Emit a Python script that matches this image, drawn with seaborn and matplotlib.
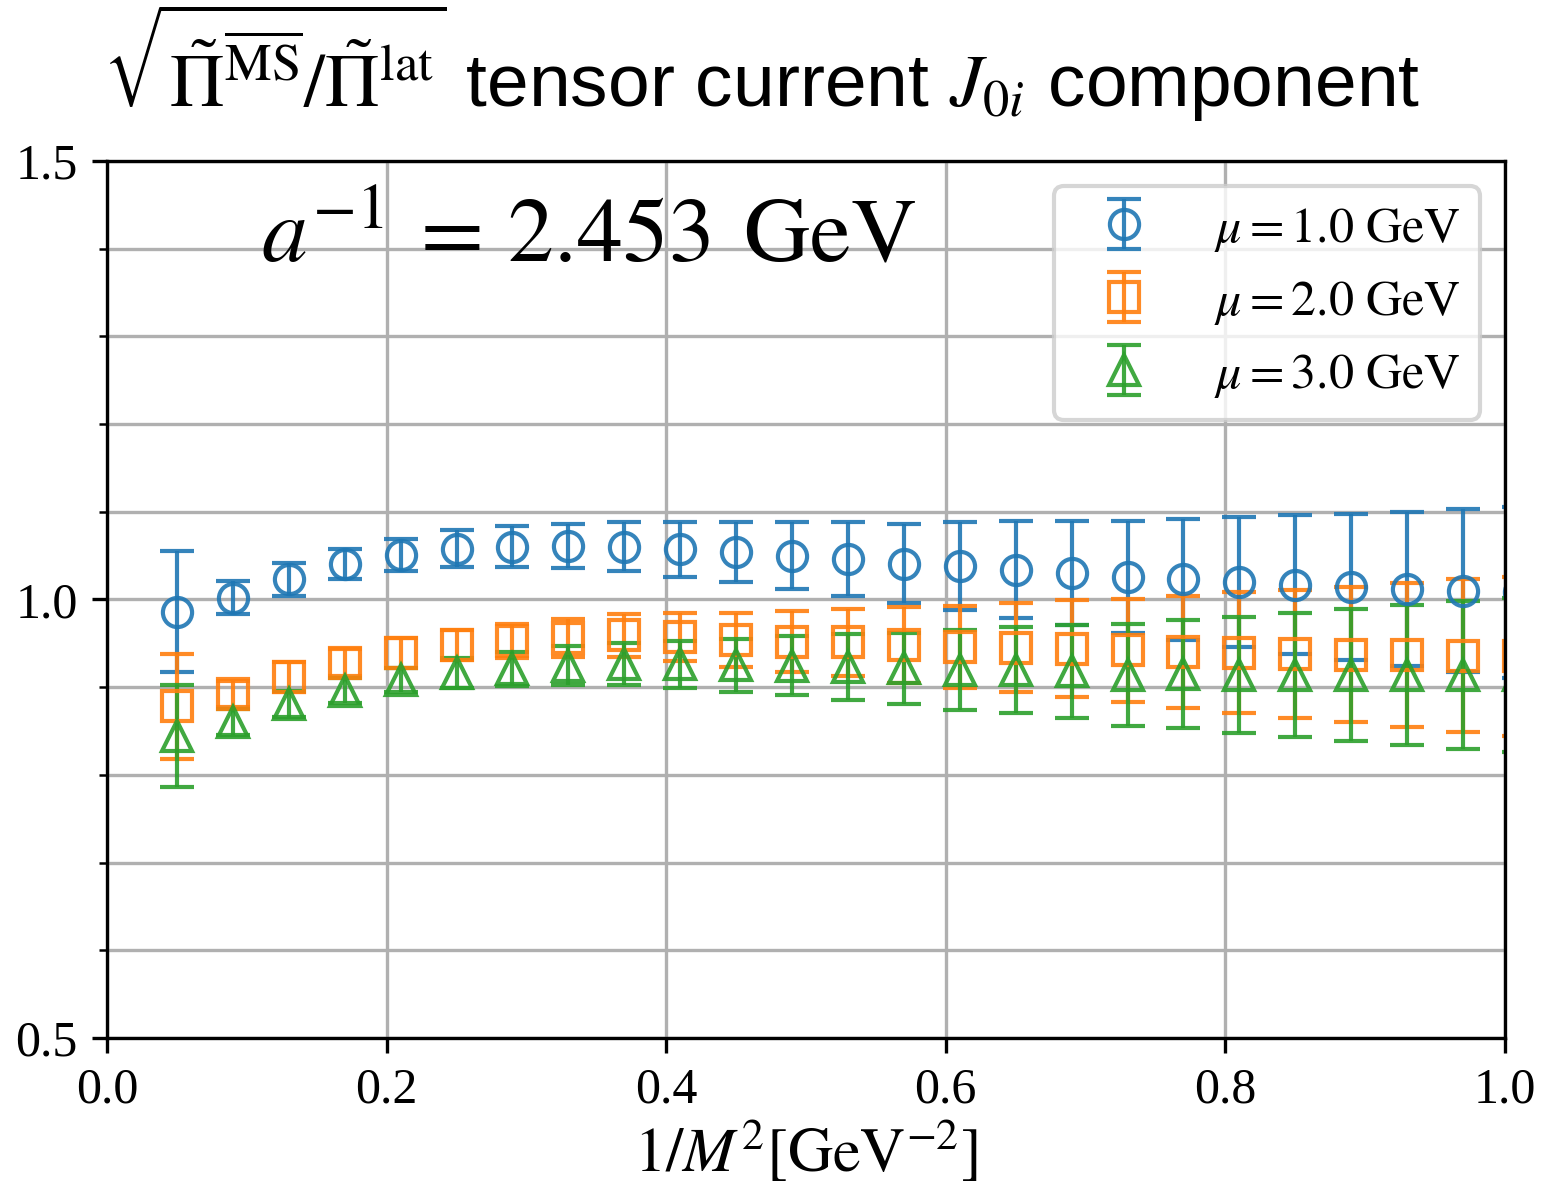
import numpy as np
import seaborn as sns
import matplotlib.pyplot as plt
from matplotlib.ticker import MultipleLocator

# x values: 1/M^2 [GeV^-2]
inv_m2 = [0.05, 0.09, 0.13, 0.17, 0.21, 0.25, 0.29, 0.33, 0.37, 0.41, 0.45, 0.49, 0.53,
          0.57, 0.61, 0.65, 0.69, 0.73, 0.77, 0.81, 0.85, 0.89, 0.93, 0.97, 1.01]

# mu = 1.0 GeV
ratio_mu1 = [0.986, 1.002, 1.023, 1.040, 1.051, 1.058, 1.060, 1.061, 1.060, 1.057, 1.054, 1.050, 1.046,
             1.041, 1.038, 1.034, 1.030, 1.026, 1.023, 1.020, 1.017, 1.014, 1.012, 1.010, 1.008]
err_mu1 = [0.069, 0.019, 0.019, 0.017, 0.018, 0.021, 0.0235, 0.025, 0.028, 0.031, 0.034, 0.038, 0.042,
           0.0455, 0.050, 0.055, 0.059, 0.064, 0.069, 0.074, 0.079, 0.083, 0.088, 0.093, 0.098]

# mu = 2.0 GeV
ratio_mu2 = [0.878, 0.892, 0.912, 0.928, 0.939, 0.948, 0.953, 0.956, 0.959, 0.957, 0.954, 0.952, 0.951,
             0.948, 0.946, 0.945, 0.944, 0.942, 0.9405, 0.9395, 0.938, 0.937, 0.9365, 0.936, 0.935]
err_mu2 = [0.060, 0.015, 0.017, 0.0155, 0.017, 0.017, 0.0195, 0.022, 0.0245, 0.0275, 0.031, 0.035, 0.038,
           0.043, 0.0465, 0.051, 0.055, 0.059, 0.064, 0.0685, 0.073, 0.077, 0.082, 0.087, 0.091]

# mu = 3.0 GeV
ratio_mu3 = [0.844, 0.860, 0.881, 0.896, 0.908, 0.916, 0.921, 0.9245, 0.926, 0.926, 0.925, 0.9245, 0.923,
             0.9215, 0.920, 0.920, 0.918, 0.914, 0.915, 0.914, 0.914, 0.914, 0.914, 0.914, 0.914]
err_mu3 = [0.058, 0.015, 0.015, 0.014, 0.0135, 0.017, 0.0195, 0.022, 0.024, 0.027, 0.030, 0.034, 0.0375,
           0.0405, 0.0455, 0.049, 0.053, 0.058, 0.062, 0.066, 0.0705, 0.075, 0.080, 0.084, 0.088]

labels = [r'$\mu = 1.0\ \mathrm{GeV}$', r'$\mu = 2.0\ \mathrm{GeV}$', r'$\mu = 3.0\ \mathrm{GeV}$']
markers = ['o', 's', '^']

plt.rcParams['font.family'] = ['Liberation Serif', 'DejaVu Serif']
plt.rcParams['mathtext.fontset'] = 'stix'

colors = sns.color_palette('tab10', 3)

fig, ax = plt.subplots(figsize=(5.14, 3.96), dpi=300)
fig.subplots_adjust(left=0.0694, right=0.976, top=0.8645, bottom=0.1263)

series = [(ratio_mu1, err_mu1), (ratio_mu2, err_mu2), (ratio_mu3, err_mu3)]
for (vals, errs), lab, mk, c in zip(series, labels, markers, colors):
    ax.errorbar(inv_m2, vals, yerr=errs, fmt=mk, mfc='none', mec=c, color=c,
                ms=7, mew=1.0, capsize=4, lw=1.0, alpha=0.9, label=lab)

ax.set_xlim(0, 1.0)
ax.set_ylim(0.5, 1.5)
ax.yaxis.set_major_locator(MultipleLocator(0.5))
ax.yaxis.set_minor_locator(MultipleLocator(0.1))
ax.xaxis.set_major_locator(MultipleLocator(0.2))
ax.grid(True, which='both', color='#b0b0b0', lw=0.8)
ax.set_axisbelow(True)
ax.tick_params(labelsize=12)

ax.set_xlabel(r'$1/M^2[\mathrm{GeV}^{-2}]$', fontsize=15, labelpad=1.5)
# title placed by hand: slightly left of the axes centre, like the original
ax.text(0.468, 1.0616,
        r'$\sqrt{\tilde{\Pi}^{\overline{\mathrm{MS}}}/\tilde{\Pi}^{\mathrm{lat}}}$ tensor current $J_{0i}$ component',
        transform=ax.transAxes, ha='center', va='baseline', fontsize=18,
        family=['Liberation Sans', 'DejaVu Sans'])
ax.text(0.11, 0.885, r'$a^{-1}\:=\,2.453\;\,\mathrm{GeV}$', transform=ax.transAxes, fontsize=22)
ax.legend(loc='upper right', fontsize=12)

fig.savefig('out.png', dpi=300)
